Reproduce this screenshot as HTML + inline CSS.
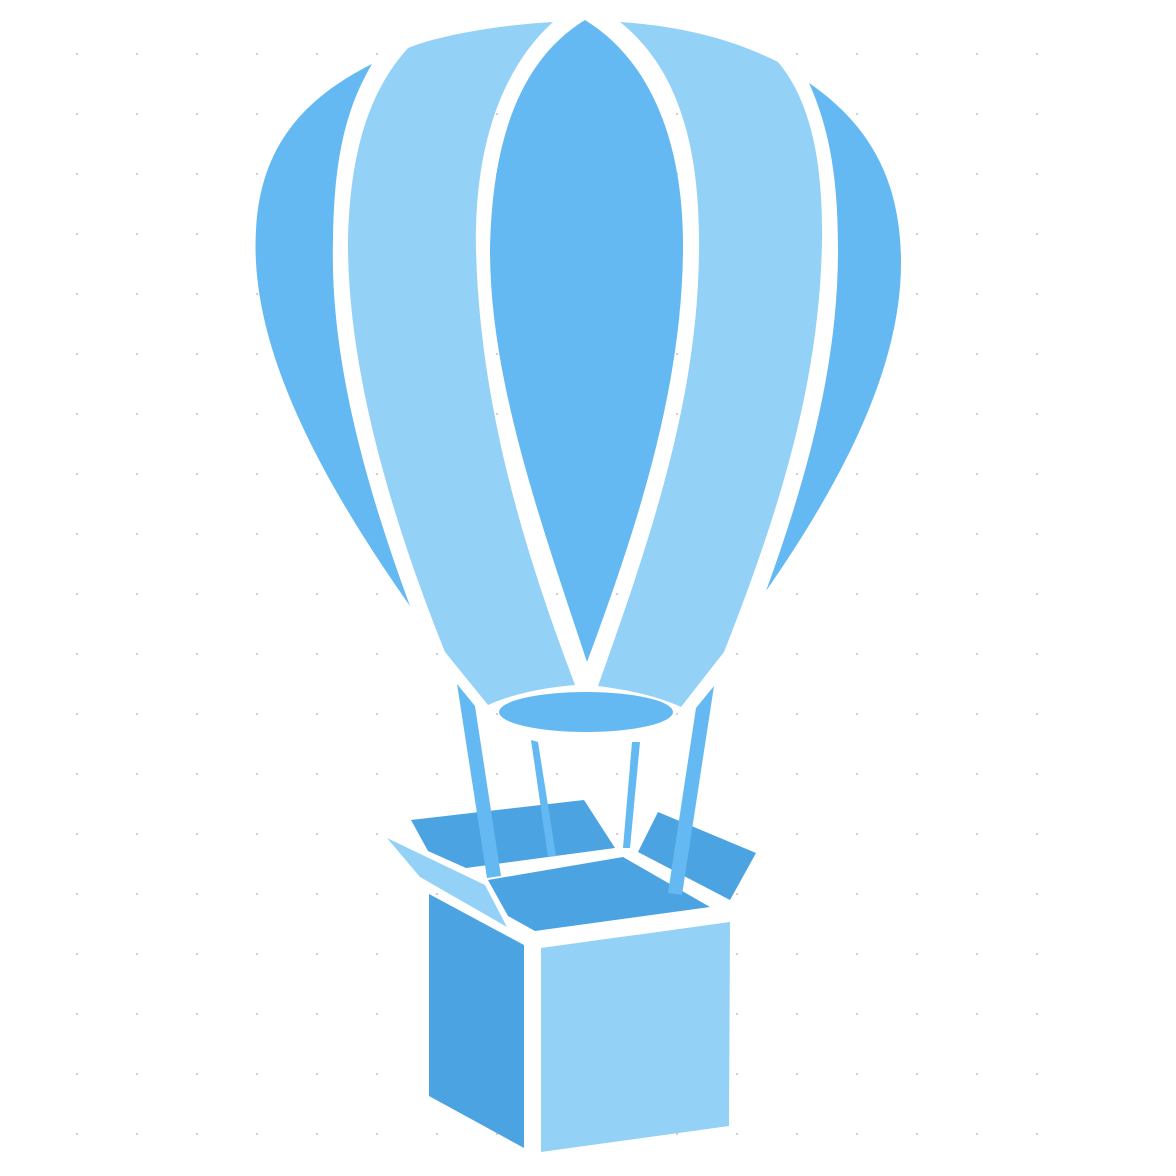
<!DOCTYPE html>
<html><head><meta charset="utf-8"><style>
html,body{margin:0;padding:0;background:#fff;}
svg{display:block;}
</style></head><body>
<svg width="1176" height="1176" viewBox="0 0 1176 1176" xmlns="http://www.w3.org/2000/svg">
<defs>
<pattern id="dots" x="0" y="0" width="60" height="60" patternUnits="userSpaceOnUse">
<rect x="16" y="53" width="2" height="2" fill="#cfcfcf"/>
</pattern>
</defs>
<rect x="60" y="40" width="1000" height="1100" fill="url(#dots)"/>
<!-- balloon -->
<path fill="#64b9f2" d="M372,64 C300,100 260,150 256,230 C250,330 300,450 410,606 C360,470 330,350 333,240 C334,160 345,110 372,64 Z"/>
<path fill="#94d1f7" d="M408,48 C370,90 350,150 348,240 C347,380 400,540 445,652 L488,705 C510,695 540,688 575,685 C520,540 480,400 476,250 C474,150 500,70 553,22 C500,25 440,35 408,48 Z"/>
<path fill="#64b9f2" d="M585,20 C520,60 492,140 490,250 C490,380 540,520 587,662 C640,520 684,380 683,240 C682,140 650,60 585,20 Z"/>
<path fill="#94d1f7" d="M620,22 C680,70 700,150 699,250 C698,400 650,540 598,686 C630,690 660,697 681,707 L724,652 C780,510 820,380 822,240 C823,160 810,100 778,62 C730,38 680,26 620,22 Z"/>
<path fill="#64b9f2" d="M809,83 C870,125 900,180 901,260 C902,360 850,470 766,591 C810,470 838,360 838,250 C838,180 830,130 809,83 Z"/>
<ellipse cx="586" cy="712" rx="87" ry="20" fill="#64b9f2"/>
<!-- basket back -->
<polygon fill="#4ba3e2" points="411,820 584,800 615,848 466,868 428,851"/>
<polygon fill="#4ba3e2" points="658,812 756,853 730,900 638,852"/>
<polygon fill="#4ba3e2" points="488,880 623,857 710,907 535,931 508,916"/>
<!-- ropes -->
<polygon fill="#64b9f2" points="457,684 475,706 501,876 487,878"/>
<polygon fill="#64b9f2" points="531,740 538,742 556,856 548,857"/>
<polygon fill="#64b9f2" points="632,742 640,742 630,848 623,848"/>
<polygon fill="#64b9f2" points="714,686 696,708 668,893 682,895"/>
<!-- basket front -->
<polygon fill="#94d1f7" points="387,838 485,885 507,927 420,877"/>
<polygon fill="#4ba3e2" points="429,894 524,945 524,1148 429,1096"/>
<polygon fill="#94d1f7" points="541,948 730,922 729,1126 541,1152"/>
</svg>
</body></html>
